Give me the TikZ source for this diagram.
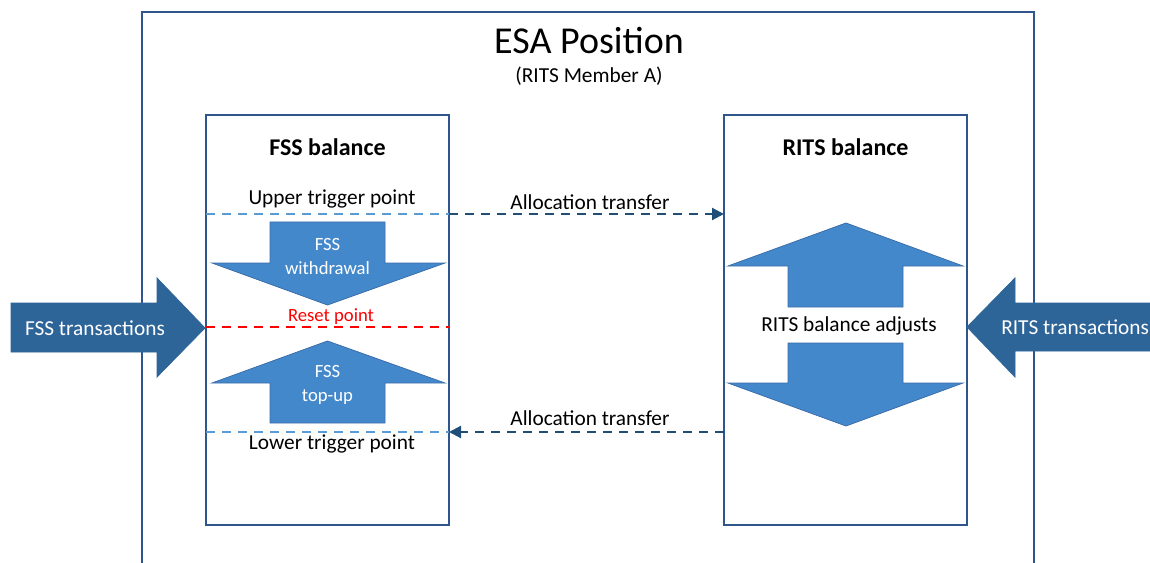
\documentclass[tikz,border=0pt]{standalone}
\usepackage{fontspec}
\setmainfont{Carlito}
\usetikzlibrary{arrows.meta}
\definecolor{boxblue}{RGB}{47,85,140}
\definecolor{fillblue}{RGB}{68,136,204}
\definecolor{edgeblue}{RGB}{60,110,170}
\definecolor{darkfill}{RGB}{46,101,153}
\definecolor{lightdash}{RGB}{91,155,213}
\definecolor{darkdash}{RGB}{31,78,121}
\newcommand{\bigsize}{\fontsize{28.5}{32}\selectfont}
\newcommand{\mdsize}{\fontsize{16}{19}\selectfont}
\newcommand{\smsize}{\fontsize{14}{18}\selectfont}
\newcommand{\hdsize}{\fontsize{18}{21}\selectfont\bfseries}
\tikzset{
  panel/.style={draw=boxblue,line width=1.1pt},
  blockarrow/.style={fill=fillblue,draw=edgeblue,line width=0.6pt},
  bigarrow/.style={fill=darkfill,draw=darkfill,line width=0.6pt},
  trigger/.style={draw=lightdash,line width=1.6pt,dash pattern=on 7pt off 5pt},
  resetline/.style={draw=red,line width=1.6pt,dash pattern=on 7pt off 5pt},
  alloc/.style={draw=darkdash,line width=1.6pt,dash pattern=on 7pt off 5pt,
    -{Triangle[length=9pt,width=9pt]}}
}
\begin{document}
\begin{tikzpicture}[x=0.75pt,y=-0.75pt]
  \clip (0,0) rectangle (1150,563);
  \fill[white] (0,0) rectangle (1150,563);
  % outer position box
  \draw[panel] (142,12) rectangle (1034,600);
  \node[font=\bigsize] (title) at (589,41) {ESA Position};
  \node[font=\mdsize] (member) at (589,76) {(RITS Member A)};
  % the two balances
  \node[panel,minimum width=182.25pt,minimum height=307.5pt] (fss) at (327.5,320) {};
  \node[panel,minimum width=182.25pt,minimum height=307.5pt] (rits) at (845.5,320) {};
  \node[font=\hdsize] (fsshead) at (327.5,147) {FSS balance};
  \node[font=\hdsize] (ritshead) at (845.5,147) {RITS balance};
  % trigger and reset lines
  \coordinate (upw) at (206,214);
  \coordinate (upe) at (449,214);
  \coordinate (upr) at (724,214);
  \coordinate (resw) at (206,327);
  \coordinate (rese) at (449,327);
  \coordinate (loww) at (206,432);
  \coordinate (lowe) at (449,432);
  \coordinate (lowr) at (724,432);
  \draw[trigger] (upw) -- (upe);
  \draw[resetline] (resw) -- (rese);
  \draw[trigger] (loww) -- (lowe);
  \draw[alloc] (upe) -- (upr);
  \draw[alloc] (lowr) -- (lowe);
  \node[font=\mdsize] (upper) at (332,199) {Upper trigger point};
  \node[font=\mdsize] (lower) at (332,444) {Lower trigger point};
  \node[font=\smsize,text=red] (reset) at (331,317) {Reset point};
  \node[font=\mdsize] (alloctop) at (590,202) {Allocation transfer};
  \node[font=\mdsize] (allocbot) at (590,418) {Allocation transfer};
  % FSS block arrows
  \draw[blockarrow] (270,222) -- (385,222) -- (385,263) -- (445,263) -- (327.5,305)
    -- (212,263) -- (270,263) -- cycle;
  \node[font=\smsize,text=white,align=center] (withdraw) at (327.5,257) {FSS\\withdrawal};
  \draw[blockarrow] (327.5,341) -- (445,383) -- (385,383) -- (385,423) -- (270,423)
    -- (270,383) -- (212,383) -- cycle;
  \node[font=\smsize,text=white,align=center] (topup) at (327.5,385) {FSS\\top-up};
  % RITS block arrows
  \draw[blockarrow] (846,223) -- (963,266) -- (903,266) -- (903,307) -- (788,307)
    -- (788,266) -- (728,266) -- cycle;
  \draw[blockarrow] (788,343) -- (903,343) -- (903,383) -- (963,383) -- (846,426)
    -- (728,383) -- (788,383) -- cycle;
  \node[font=\mdsize] (adjust) at (849,326) {RITS balance adjusts};
  % transactions coming in
  \draw[bigarrow] (11,303) -- (157,303) -- (157,278) -- (205,328) -- (157,377)
    -- (157,352) -- (11,352) -- cycle;
  \node[font=\mdsize,text=white] (fsstrans) at (95,328) {FSS transactions};
  \draw[bigarrow] (967,327) -- (1015,278) -- (1015,303) -- (1170,303) -- (1170,351)
    -- (1015,351) -- (1015,377) -- cycle;
  \node[font=\mdsize,text=white,anchor=west,inner sep=0pt] (ritstrans) at (1001,327) {RITS transactions};
\end{tikzpicture}
\end{document}
